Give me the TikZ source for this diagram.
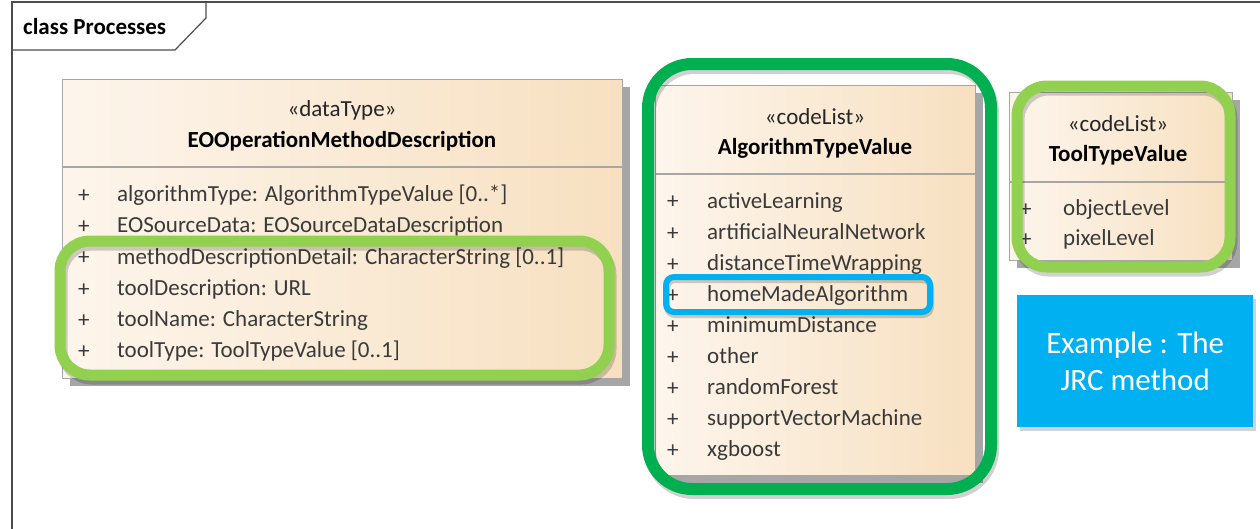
\documentclass[tikz,border=0pt]{standalone}
\usepackage{fontspec}
\setmainfont{Carlito}
\usetikzlibrary{shadows}
\definecolor{frameline}{HTML}{4D4D4D}
\definecolor{boxline}{HTML}{A6A6A6}
\definecolor{boxleft}{HTML}{FDF5EC}
\definecolor{boxright}{HTML}{F7E0C0}
\definecolor{lgreen}{HTML}{92D050}
\definecolor{dgreen}{HTML}{00B050}
\definecolor{hblue}{HTML}{00B0F0}
\definecolor{rowtext}{HTML}{3A3A3A}
\begin{document}
\begin{tikzpicture}[x=1pt,y=-1pt,
  classbox/.style={draw=boxline, line width=1.3pt, left color=boxleft, right color=boxright,
    rectangle, inner sep=0pt, anchor=north west,
    drop shadow={shadow xshift=7pt, shadow yshift=-7pt, fill=boxline, opacity=1}},
  divider/.style={draw=boxline, line width=1.3pt},
  stereo/.style={font=\fontsize{23}{27}\selectfont, text=black!85, inner sep=0pt},
  cname/.style={font=\fontsize{23}{27}\selectfont\bfseries, text=black, inner sep=0pt},
  plus/.style={font=\fontsize{23}{27}\selectfont, text=rowtext, inner sep=0pt, anchor=west},
  attr/.style={font=\fontsize{23}{27}\selectfont, text=rowtext, inner sep=0pt, anchor=west,
    text height=16pt, text depth=5pt},
  hilite/.style={draw=#1, line width=11pt, rounded corners=30pt},
  glow/.style={draw=black, opacity=0.18, line width=11pt, rounded corners=30pt},
]
\useasboundingbox (0,0) rectangle (1260,528);
\fill[white] (0,0) rectangle (1260,528);

% diagram frame and its name tab
\draw[frameline, line width=1.5pt] (12,540) -- (12,2) -- (1270,2);
\draw[frameline, line width=1.2pt] (12,50) -- (175,50) -- (206,18) -- (206,2);
\node[font=\fontsize{23}{27}\selectfont\bfseries, anchor=west, inner sep=0pt] (tab) at (23,27) {class Processes};

% ---- EOOperationMethodDescription ----
\node[classbox, minimum width=560pt, minimum height=299pt] (eo) at (62,79) {};
\draw[divider] (eo.west |- 0,167) -- (eo.east |- 0,167);
\node[stereo] (eoSt) at (342,110) {«dataType»};
\node[cname] (eoNm) at (342,141) {EOOperationMethodDescription};
\foreach \t [count=\i] in {algorithmType: AlgorithmTypeValue [0..*],
    EOSourceData: EOSourceDataDescription,
    methodDescriptionDetail: CharacterString [0..1],
    toolDescription: URL,
    toolName: CharacterString,
    toolType: ToolTypeValue [0..1]} {
  \node[plus] (eoP\i) at (78,165+31.2*\i) {+};
  \node[attr] (eoA\i) at (117,165+31.2*\i) {\t};
}

% ---- AlgorithmTypeValue ----
\node[classbox, minimum width=320pt, minimum height=390pt] (alg) at (655,85) {};
\draw[divider] (alg.west |- 0,174) -- (alg.east |- 0,174);
\node[stereo] (algSt) at (815,117) {«codeList»};
\node[cname] (algNm) at (815,148) {AlgorithmTypeValue};
\foreach \t [count=\i] in {activeLearning, artificialNeuralNetwork, distanceTimeWrapping,
    homeMadeAlgorithm, minimumDistance, other, randomForest, supportVectorMachine, xgboost} {
  \node[plus] (algP\i) at (667,171.5+31.1*\i) {+};
  \node[attr] (algA\i) at (707,171.5+31.1*\i) {\t};
}

% ---- ToolTypeValue ----
\node[classbox, minimum width=223pt, minimum height=168pt] (tool) at (1009,92) {};
\draw[divider] (tool.west |- 0,182) -- (tool.east |- 0,182);
\node[stereo] (toolSt) at (1118,124) {«codeList»};
\node[cname] (toolNm) at (1118,155) {ToolTypeValue};
\node[plus] (toolP1) at (1020,210) {+};
\node[attr] (toolA1) at (1063,210) {objectLevel};
\node[plus] (toolP2) at (1020,240) {+};
\node[attr] (toolA2) at (1063,240) {pixelLevel};

% ---- highlight outlines ----
\draw[glow] (62,245) rectangle (611,379);
\draw[hilite=lgreen] (60,241) rectangle (609,375);
\draw[glow, rounded corners=44pt, line width=12pt] (650,68) rectangle (993,493);
\draw[hilite=dgreen, rounded corners=44pt, line width=12pt] (648,64) rectangle (991,489);
\draw[glow] (1019,90) rectangle (1232,271);
\draw[hilite=lgreen] (1017,86) rectangle (1230,267);
\draw[glow, rounded corners=8pt, line width=6pt] (667,280) rectangle (931,315);
\draw[hilite=hblue, rounded corners=8pt, line width=6pt] (666,277) rectangle (930,312);

% ---- example note ----
\node[fill=hblue, anchor=north west, minimum width=236pt, minimum height=132pt, inner sep=0pt,
  drop shadow={shadow xshift=3pt, shadow yshift=-4pt, opacity=0.35},
  text=white, align=center, font=\fontsize{31}{37}\selectfont] (note) at (1017,295)
  {Example : The\\JRC method};
\end{tikzpicture}
\end{document}
